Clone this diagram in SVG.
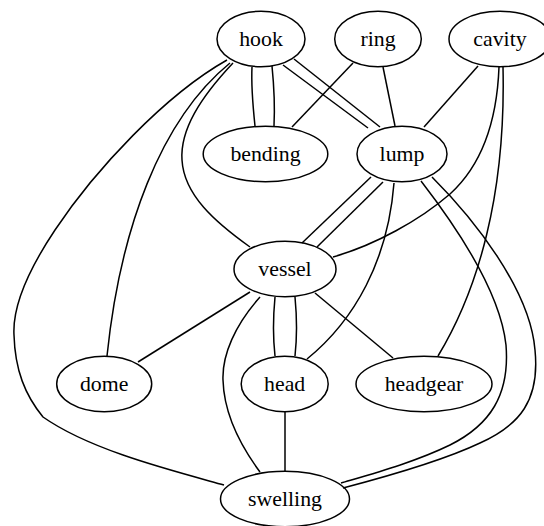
<svg xmlns="http://www.w3.org/2000/svg" width="544" height="526" viewBox="0 0 544 526">
<style>
.n ellipse{fill:none;stroke:#000;stroke-width:1.5}
.n text{font-family:'Liberation Serif','Times New Roman',Times,'Nimbus Roman','Noto Serif','DejaVu Serif',serif;font-size:21.8px;text-anchor:middle;fill:#000}
#edges path{fill:none;stroke:#000;stroke-width:1.5}
</style>
<rect width="544" height="526" fill="#fff"/>
<g id="edges">
<path d="M252,67 C251,87 253,107 255,126"/>
<path d="M272,66 C274,86 275,106 274,126"/>
<path d="M283,65 L368,128"/>
<path d="M294,59 L380,127"/>
<path d="M353,63 L292,127"/>
<path d="M383,67 L395,126"/>
<path d="M478,66 L424,127"/>
<path d="M499,67 C497,120 482,165 450,194 C420,220 375,245 333,257"/>
<path d="M503,67 C506,195 478,290 438,356"/>
<path d="M233,63 C200,98 180,130 182,160 C184,195 215,222 250,247"/>
<path d="M230,63 C160,120 120,230 107,356"/>
<path d="M227,60 C165,95 95,170 55,230 C35,260 12,300 14,335 C15,370 25,395 43,417 C90,450 170,470 224,485"/>
<path d="M371,177 L302,243"/>
<path d="M383,182 L317,247"/>
<path d="M394,183 C388,260 355,320 307,359"/>
<path d="M421,181 C455,225 500,290 506,345 C510,395 490,425 450,445 C415,462 375,473 341,483"/>
<path d="M432,177 C475,220 530,290 535,350 C540,400 520,425 480,443 C440,462 385,477 343,488"/>
<path d="M250,292 L138,362"/>
<path d="M275,297 C273,318 273,338 275,356"/>
<path d="M295,297 C297,318 297,338 295,356"/>
<path d="M315,293 L393,358"/>
<path d="M260,297 C235,325 222,355 223,380 C224,415 240,445 260,472"/>
<path d="M285,412 L285,471"/>
</g>
<g id="hook" class="n"><ellipse cx="261" cy="39" rx="44" ry="27.7"/><text x="261" y="45.5">hook</text></g>
<g id="ring" class="n"><ellipse cx="378" cy="39" rx="43.3" ry="27.7"/><text x="378" y="45.5">ring</text></g>
<g id="cavity" class="n"><ellipse cx="500" cy="39" rx="51" ry="27.7"/><text x="500" y="45.5">cavity</text></g>
<g id="bending" class="n"><ellipse cx="265.5" cy="154" rx="62.3" ry="27.7"/><text x="265.5" y="160.5">bending</text></g>
<g id="lump" class="n"><ellipse cx="402" cy="154" rx="45" ry="27.7"/><text x="402" y="160.5">lump</text></g>
<g id="vessel" class="n"><ellipse cx="285" cy="269" rx="51" ry="27.7"/><text x="285" y="275.5">vessel</text></g>
<g id="dome" class="n"><ellipse cx="104.2" cy="384" rx="47.5" ry="27.7"/><text x="104.2" y="390.5">dome</text></g>
<g id="head" class="n"><ellipse cx="284.7" cy="384" rx="43.5" ry="27.7"/><text x="284.7" y="390.5">head</text></g>
<g id="headgear" class="n"><ellipse cx="424" cy="384" rx="68" ry="27.7"/><text x="424" y="390.5">headgear</text></g>
<g id="swelling" class="n"><ellipse cx="285" cy="499" rx="64.5" ry="27.7"/><text x="285" y="505.5">swelling</text></g>
</svg>
